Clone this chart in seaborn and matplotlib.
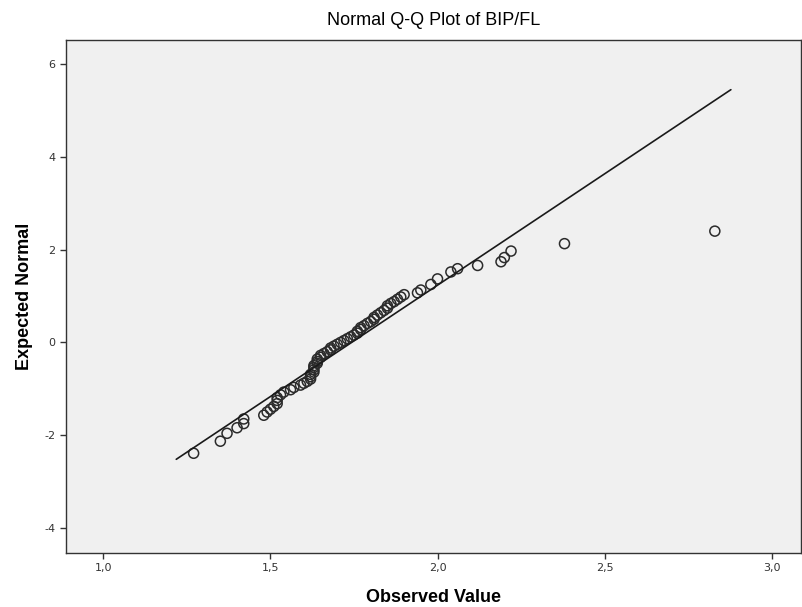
import pandas as pd
import numpy as np
import matplotlib
matplotlib.use("Agg")
import matplotlib.pyplot as plt
import seaborn as sns
from matplotlib.ticker import FuncFormatter

# observed BIP/FL values and expected normal scores
observed = [1.27, 1.35, 1.37, 1.40, 1.42, 1.42, 1.48, 1.49, 1.50, 1.51,
            1.52, 1.52, 1.52, 1.53, 1.54, 1.56, 1.57, 1.59, 1.60, 1.61,
            1.62, 1.62, 1.62, 1.63, 1.63, 1.63, 1.63, 1.64, 1.64, 1.64,
            1.65, 1.65, 1.66, 1.67, 1.68, 1.68, 1.69, 1.70, 1.71, 1.72,
            1.73, 1.74, 1.75, 1.76, 1.76, 1.77, 1.77, 1.78, 1.79, 1.80,
            1.81, 1.81, 1.82, 1.83, 1.84, 1.85, 1.85, 1.86, 1.87, 1.88,
            1.89, 1.90, 1.94, 1.95, 1.98, 2.00, 2.04, 2.06, 2.12, 2.19,
            2.20, 2.22, 2.38, 2.83]
expected = [-2.39, -2.13, -1.96, -1.84, -1.75, -1.65, -1.57, -1.50, -1.44, -1.38,
            -1.32, -1.25, -1.19, -1.13, -1.07, -1.02, -0.97, -0.92, -0.88, -0.84,
            -0.79, -0.74, -0.69, -0.64, -0.59, -0.54, -0.50, -0.45, -0.41, -0.36,
            -0.32, -0.28, -0.24, -0.20, -0.16, -0.12, -0.08, -0.04, 0.00, 0.04,
            0.08, 0.12, 0.16, 0.20, 0.24, 0.28, 0.32, 0.36, 0.41, 0.45,
            0.50, 0.54, 0.59, 0.64, 0.69, 0.74, 0.79, 0.84, 0.88, 0.93,
            0.98, 1.03, 1.07, 1.13, 1.25, 1.37, 1.52, 1.59, 1.66, 1.74,
            1.83, 1.97, 2.13, 2.40]

# reference line end points
line_x = [1.218, 2.878]
line_y = [-2.52, 5.45]

x_ticks = [1.0, 1.5, 2.0, 2.5, 3.0]
y_ticks = [-4, -2, 0, 2, 4, 6]

df = pd.DataFrame({"observed": observed, "expected": expected})
ref = pd.DataFrame({"x": line_x, "y": line_y})

sns.set_style("white")
plt.rcParams["font.family"] = ["Liberation Sans", "DejaVu Sans"]
plt.rcParams["text.color"] = "black"
plt.rcParams["axes.labelcolor"] = "black"

fig = plt.figure(figsize=(8.02, 6.07), dpi=100)
ax = fig.add_axes([0.0823, 0.089, 0.9165, 0.845])
ax.set_facecolor("#f0f0f0")

sns.lineplot(data=ref, x="x", y="y", sort=False, color="#1a1a1a", linewidth=1.2, ax=ax)
sns.scatterplot(data=df, x="observed", y="expected", s=52, facecolor="none",
                edgecolor="#2b2b2b", linewidth=1.1, ax=ax)

ax.set_xlim(0.888, 3.088)
ax.set_ylim(-4.54, 6.52)
ax.set_xticks(x_ticks)
ax.set_yticks(y_ticks)
ax.xaxis.set_major_formatter(FuncFormatter(lambda v, p: f"{v:.1f}".replace(".", ",")))
ax.yaxis.set_major_formatter(FuncFormatter(lambda v, p: f"{v:.0f}"))
ax.tick_params(axis="both", direction="out", length=4, width=1, color="#333333",
               labelsize=8, labelcolor="#333333", bottom=True, left=True)
for lab in ax.get_xticklabels() + ax.get_yticklabels():
    lab.set_family("DejaVu Sans")

for side in ax.spines.values():
    side.set_color("#333333")
    side.set_linewidth(1.0)

ax.set_title("Normal Q-Q Plot of BIP/FL", fontsize=13, pad=11)
ax.set_xlabel("Observed Value", fontsize=13, fontweight="bold", labelpad=11)
ax.set_ylabel("Expected Normal", fontsize=13, fontweight="bold", labelpad=8)

fig.savefig("out.png", dpi=100, facecolor="white")
